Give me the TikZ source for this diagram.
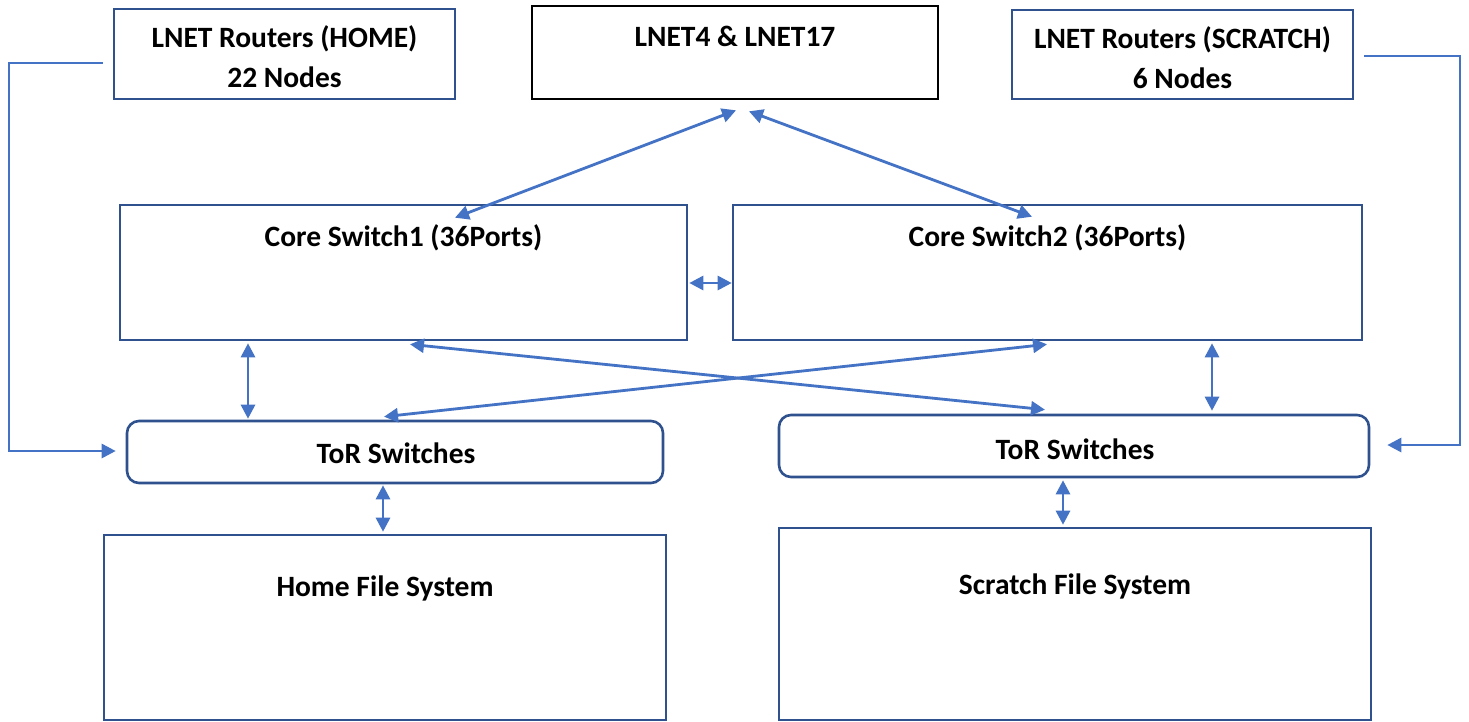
\documentclass[tikz,border=0pt]{standalone}
\usepackage{fontspec}
\setmainfont{Carlito}
\usetikzlibrary{arrows.meta,calc}
\definecolor{boxblue}{HTML}{2F528F}
\definecolor{arrblue}{HTML}{4472C4}
\begin{document}
\begin{tikzpicture}[x=1pt,y=-1pt,
  box/.style={draw=boxblue,line width=2.6pt,inner sep=0pt,rectangle},
  blackbox/.style={draw=black,line width=2.6pt,inner sep=0pt,rectangle},
  torbox/.style={box,rounded corners=12pt},
  txt/.style={font=\fontsize{29.5}{40}\selectfont\bfseries,inner sep=0pt,align=center},
  link/.style={draw=arrblue,line width=2.8pt,{Triangle[length=14pt,width=14pt]}-{Triangle[length=14pt,width=14pt]}},
  elbow/.style={draw=arrblue,line width=2.8pt,-{Triangle[length=14pt,width=14pt]}}
]
\useasboundingbox (0,0) rectangle (1469,721);
\fill[white] (0,0) rectangle (1469,721);

% boxes
\node[box,minimum width=341pt,minimum height=90pt] (homeR) at (284.5,54) {};
\node[blackbox,minimum width=406pt,minimum height=93pt] (lnet) at (735,52.5) {};
\node[box,minimum width=341pt,minimum height=89pt] (scrR) at (1182.5,54.5) {};
\node[box,minimum width=567pt,minimum height=135pt] (core1) at (403.5,272.5) {};
\node[box,minimum width=629pt,minimum height=135pt] (core2) at (1047.5,272.5) {};
\node[torbox,minimum width=536pt,minimum height=62pt] (torL) at (395,452) {};
\node[torbox,minimum width=590pt,minimum height=62pt] (torR) at (1074,446) {};
\node[box,minimum width=562pt,minimum height=185pt] (homeFS) at (385,627.5) {};
\node[box,minimum width=592pt,minimum height=192pt] (scrFS) at (1075,624) {};

% texts
\node[txt] (homeRt) at ($(homeR.center)+(0,3)$) {LNET Routers (HOME)\\22 Nodes};
\node[txt] (scrRt) at ($(scrR.center)+(0,3)$) {LNET Routers (SCRATCH)\\6 Nodes};
\node[txt] (lnett) at ($(lnet.north)+(0,32)$) {LNET4 \& LNET17};
\node[txt] (core1t) at ($(core1.north)+(0,34)$) {Core Switch1 (36Ports)};
\node[txt] (core2t) at ($(core2.north)+(0,34)$) {Core Switch2 (36Ports)};
\node[txt] (torLt) at ($(torL.center)+(1,1.5)$) {ToR Switches};
\node[txt] (torRt) at ($(torR.center)+(1,3)$) {ToR Switches};
\node[txt] (homeFSt) at ($(homeFS.north)+(0,55)$) {Home File System};
\node[txt] (scrFSt) at ($(scrFS.north)+(0,60)$) {Scratch File System};

% connectors
\draw[link] ($(lnet.south)+(1,10)$) -- ($(core1.north)+(51.5,14)$);
\draw[link] ($(lnet.south)+(14,11)$) -- ($(core2.north)+(-15.5,13)$);
\draw[link] ($(core1.east)+(1,10.5)$) -- ($(core2.west)+(0,10.5)$);
\draw[link] ($(core1.south)+(-155.5,2)$) -- ($(torL.north)+(-147,-1)$);
\draw[link] ($(core1.south)+(6.5,3)$) -- ($(torR.north)+(-29,-4)$);
\draw[link] ($(core2.south)+(-0.5,3)$) -- ($(torL.north)+(-11,-3)$);
\draw[link] ($(core2.south)+(164.5,2)$) -- ($(torR.north)+(138,-3)$);
\draw[link] ($(torL.south)+(-12,1)$) -- ($(homeFS.north)+(-2,-2)$);
\draw[link] ($(torR.south)+(-11,2)$) -- ($(scrFS.north)+(-12,-2)$);

\coordinate (hstart) at ($(homeR.west)+(-10,9)$);
\coordinate (hend) at ($(torL.west)+(-10,-1)$);
\draw[elbow] (hstart) -- (9,63) -- (9,451) -- (hend);
\coordinate (sstart) at ($(scrR.east)+(10,1.5)$);
\coordinate (send) at ($(torR.east)+(17,-1)$);
\draw[elbow] (sstart) -- (1460,56) -- (1460,445) -- (send);
\end{tikzpicture}
\end{document}
